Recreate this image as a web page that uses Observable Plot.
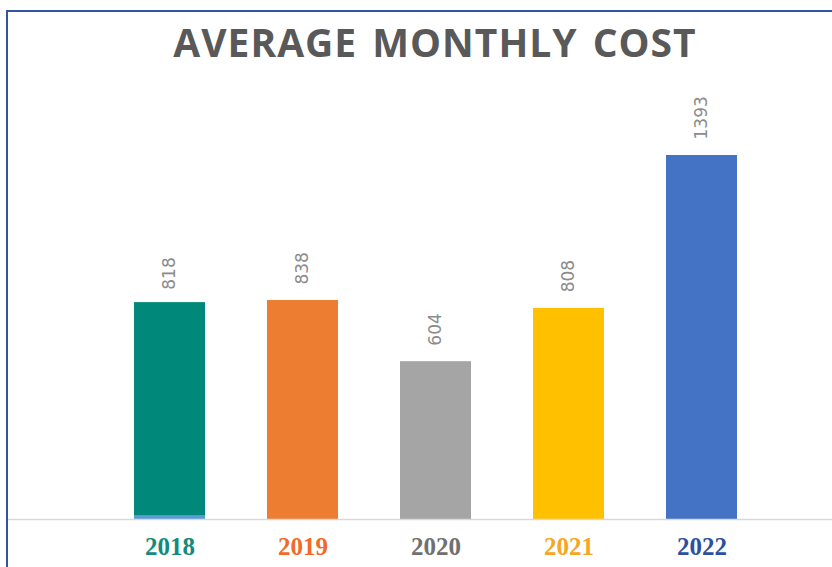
<!DOCTYPE html>
<html><head><meta charset="utf-8">
<script src="https://cdn.jsdelivr.net/npm/d3@7"></script>
<script src="https://cdn.jsdelivr.net/npm/@observablehq/plot@0.6"></script>
<style>
body{margin:0;background:#fff;}
#wrap{position:relative;width:832px;height:567px;overflow:hidden;background:#fff;}
#border{position:absolute;left:6px;top:10px;width:900px;height:700px;border-left:2.5px solid #2f55a4;border-top:2.5px solid #2f55a4;}
#title{position:absolute;left:0;width:870px;top:15px;text-align:center;font:bold 39px "Open Sans";color:#595959;letter-spacing:1px;word-spacing:4px;white-space:nowrap;}
#chart{position:absolute;left:0;top:0;}
</style></head><body>
<div id="wrap"><div id="border"></div><div id="title">AVERAGE MONTHLY COST</div><div id="chart"></div></div>
<script>
const years = ["2018","2019","2020","2021","2022"];
const costs = [818, 838, 604, 808, 1393];
const barColors = ["#5b9bd5", "#ed7d31", "#a5a5a5", "#ffc000", "#4472c4"];
const labelColors = ["#138a7a", "#f26a2a", "#707070", "#f5a623", "#2e4f9f"];
// teal shape overlaid on the 2018 bar (leaves a thin blue strip at its base)
const overlayYear = ["2018"];
const overlayLow = [15];
const overlayHigh = [830];
const overlayColor = ["#00897a"];

const data = years.map((y, i) => ({year: y, cost: costs[i], bar: barColors[i], lab: labelColors[i]}));
const overlay = overlayYear.map((y, i) => ({year: y, lo: overlayLow[i], hi: overlayHigh[i], c: overlayColor[i]}));

const chart = Plot.plot({
  width: 832, height: 567,
  marginLeft: 8, marginRight: 0, marginTop: 0, marginBottom: 0,
  x: {domain: years, range: [103, 768], paddingInner: 0.466, paddingOuter: 0.233, axis: null},
  y: {domain: [0, 1393], range: [519, 155], axis: null},
  color: {type: "identity"},
  style: {background: "transparent", overflow: "visible"},
  marks: [
    Plot.barY(data, {x: "year", y: "cost", fill: "bar"}),
    Plot.barY(overlay, {x: "year", y1: "lo", y2: "hi", fill: "c"}),
    Plot.ruleY([0], {stroke: "#d9d9d9", strokeWidth: 1.5}),
    Plot.text(data, {x: "year", y: "cost", text: d => String(d.cost), rotate: -90, textAnchor: "start", lineAnchor: "middle", dy: -16, fill: "#8c8c8c", fontSize: 17, fontFamily: "DejaVu Sans"}),
    Plot.text(data, {x: "year", y: () => 0, text: "year", dy: 27, fill: "lab", fontSize: 25, fontWeight: "bold", fontFamily: "Liberation Serif"})
  ]
});
document.getElementById("chart").appendChild(chart);
</script></body></html>
